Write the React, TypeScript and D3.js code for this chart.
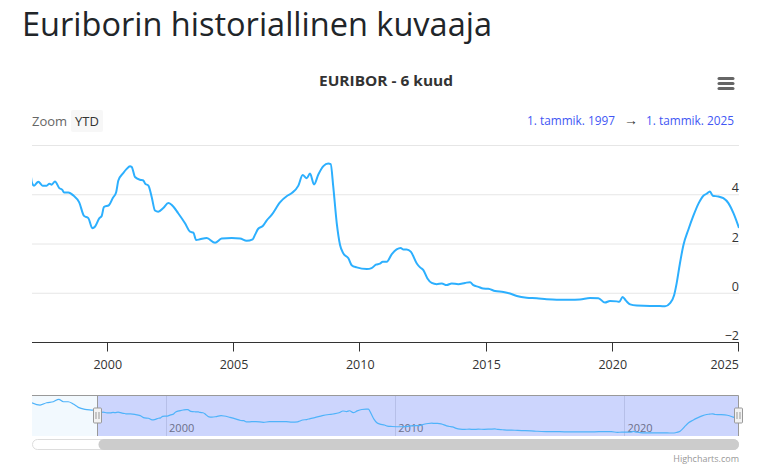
import React from "react";
import * as d3 from "d3";

// ---- data (decimal year, 6-month Euribor %) ----
const years: number[] = [
  1994.15, 1994.5, 1994.79, 1995.08, 1995.32, 1995.52, 1995.73, 1995.95, 1996.17, 1996.46, 1996.75, 1996.92,
  1997.0, 1997.08, 1997.25, 1997.42, 1997.58, 1997.69, 1997.78, 1997.91, 1998.08, 1998.2, 1998.27, 1998.44,
  1998.64, 1998.87, 1999.06, 1999.23, 1999.39, 1999.5, 1999.67, 1999.76, 1999.85, 2000.05, 2000.2, 2000.33,
  2000.42, 2000.62, 2000.75, 2000.88, 2000.95, 2001.08, 2001.28, 2001.41, 2001.48, 2001.61, 2001.74, 2001.87,
  2002.0, 2002.2, 2002.4, 2002.53, 2002.79, 2003.06, 2003.26, 2003.39, 2003.5, 2003.65, 2003.92, 2004.25,
  2004.51, 2004.91, 2005.24, 2005.5, 2005.74, 2005.83, 2005.96, 2006.14, 2006.29, 2006.49, 2006.82, 2007.11,
  2007.29, 2007.55, 2007.72, 2007.88, 2008.01, 2008.17, 2008.34, 2008.54, 2008.73, 2008.83, 2008.93, 2009.07,
  2009.2, 2009.33, 2009.53, 2009.66, 2009.86, 2010.26, 2010.45, 2010.62, 2010.78, 2010.89, 2011.05, 2011.25,
  2011.44, 2011.6, 2011.71, 2011.84, 2012.0, 2012.24, 2012.37, 2012.5, 2012.66, 2012.83, 2013.03, 2013.23,
  2013.42, 2013.62, 2013.88, 2014.15, 2014.35, 2014.48, 2014.68, 2014.87, 2015.07, 2015.34, 2015.67, 2015.93,
  2016.2, 2016.59, 2016.99, 2017.38, 2017.78, 2018.31, 2018.7, 2019.1, 2019.43, 2019.69, 2019.89, 2020.16,
  2020.26, 2020.39, 2020.53, 2020.69, 2020.95, 2021.48, 2021.87, 2022.07, 2022.27, 2022.43, 2022.53, 2022.66,
  2022.8, 2022.99, 2023.19, 2023.39, 2023.59, 2023.72, 2023.85, 2023.96, 2024.18, 2024.38, 2024.58, 2024.78,
  2025.0,
];
const rates: number[] = [
  6.8, 6.25, 6.8, 7.05, 7.64, 7.05, 7.05, 6.49, 5.69, 5.2, 5.03, 4.95,
  4.48, 4.37, 4.53, 4.37, 4.37, 4.45, 4.41, 4.54, 4.27, 4.2, 4.09, 4.09,
  3.97, 3.69, 3.14, 3.05, 2.64, 2.71, 3.05, 3.14, 3.5, 3.58, 3.87, 4.09,
  4.58, 4.89, 5.05, 5.16, 5.13, 4.72, 4.61, 4.58, 4.45, 4.37, 3.91, 3.36,
  3.31, 3.46, 3.66, 3.59, 3.25, 2.84, 2.5, 2.46, 2.16, 2.19, 2.24, 2.05,
  2.22, 2.24, 2.22, 2.13, 2.19, 2.37, 2.62, 2.73, 2.95, 3.18, 3.69, 3.96,
  4.07, 4.37, 4.8, 4.67, 4.86, 4.42, 4.82, 5.16, 5.27, 5.24, 4.34, 2.84,
  1.96, 1.62, 1.42, 1.14, 1.05, 0.98, 1.02, 1.16, 1.2, 1.28, 1.28, 1.59,
  1.78, 1.84, 1.78, 1.78, 1.69, 1.21, 1.05, 0.94, 0.6, 0.42, 0.37, 0.4,
  0.33, 0.4, 0.37, 0.42, 0.45, 0.33, 0.26, 0.19, 0.18, 0.09, 0.05, -0.01,
  -0.11, -0.18, -0.2, -0.24, -0.26, -0.26, -0.25, -0.19, -0.2, -0.38, -0.31, -0.33,
  -0.35, -0.15, -0.31, -0.45, -0.5, -0.52, -0.52, -0.53, -0.4, -0.08, 0.4, 1.21,
  1.96, 2.57, 3.14, 3.63, 3.96, 4.04, 4.13, 3.96, 3.93, 3.86, 3.66, 3.25,
  2.65,
];
const viewRange: number[] = [1997, 2025];
const yDomain: number[] = [-2, 6];
const yTickValues: number[] = [-2, 0, 2, 4, 6];
const xTickYears: number[] = [2000, 2005, 2010, 2015, 2020, 2025];
const navTickYears: number[] = [2000, 2010, 2020];

const pageTitle = "Euriborin historiallinen kuvaaja";
const chartTitle = "EURIBOR - 6 kuud";
const fromLabel = "1. tammik. 1997";
const toLabel = "1. tammik. 2025";

const FONT = "'Open Sans', 'Noto Sans', sans-serif";
const LINE = "#2caffe";

export default function App() {
  const W = 769, H = 466;
  const left = 32, right = 739;
  const top = 145.5, bottom = 342.5;
  const data = years.map((y, i) => ({ y, v: rates[i] }));

  const x = d3.scaleLinear().domain(viewRange).range([left, right]);
  const y = d3.scaleLinear().domain(yDomain).range([bottom, top]);

  const line = d3
    .line<{ y: number; v: number }>()
    .x((d) => x(d.y))
    .y((d) => y(d.v))
    .curve(d3.curveMonotoneX);

  // navigator
  const navTop = 395.5, navBottom = 436;
  const nx = d3.scaleLinear().domain(d3.extent(years) as [number, number]).range([left, right]);
  const ny = d3.scaleLinear().domain(d3.extent(rates) as [number, number]).range([433, 399.3]);
  const navLine = d3
    .line<{ y: number; v: number }>()
    .x((d) => nx(d.y))
    .y((d) => ny(d.v))
    .curve(d3.curveMonotoneX);
  const hx1 = Math.round(nx(viewRange[0])) + 0.5;
  const hx2 = Math.round(nx(viewRange[1])) - 0.5;

  const handle = (cx: number) => (
    <g key={cx}>
      <rect x={cx - 4} y={408} width={8} height={15} rx={1} fill="#f2f2f2" stroke="#999" strokeWidth={1} />
      <line x1={cx - 1.5} x2={cx - 1.5} y1={412} y2={419} stroke="#999" />
      <line x1={cx + 1.5} x2={cx + 1.5} y1={412} y2={419} stroke="#999" />
    </g>
  );

  return (
    <svg
      width={W}
      height={H}
      style={{ position: "absolute", left: 0, top: 0, background: "#fff" }}
      fontFamily={FONT}
    >
      <defs>
        <clipPath id="plotClip">
          <rect x={left} y={top - 10} width={right - left} height={bottom - top + 10} />
        </clipPath>
        <clipPath id="navClip">
          <rect x={left} y={navTop} width={right - left} height={navBottom - navTop} />
        </clipPath>
      </defs>

      {/* page title */}
      <text x={22} y={36} fontSize={33} fill="#212529" textLength={470} lengthAdjust="spacingAndGlyphs">
        {pageTitle}
      </text>

      {/* chart title */}
      <text x={386} y={86} fontSize={15} fontWeight="bold" fill="#333" textAnchor="middle" textLength={134} lengthAdjust="spacingAndGlyphs">
        {chartTitle}
      </text>

      {/* menu */}
      {[78.5, 83.5, 88.5].map((yy) => (
        <line key={yy} x1={719} x2={733} y1={yy} y2={yy} stroke="#666" strokeWidth={3} strokeLinecap="round" />
      ))}

      {/* range selector */}
      <text x={32} y={126} fontSize={13} fill="#666">Zoom</text>
      <rect x={71} y={110} width={32} height={22} rx={2} fill="#f7f7f7" />
      <text x={87} y={126} fontSize={13} fill="#333" textAnchor="middle">YTD</text>
      <text x={615} y={125} fontSize={12.5} fill="#4257f4" textAnchor="end" textLength={88} lengthAdjust="spacingAndGlyphs">{fromLabel}</text>
      <text x={631} y={125} fontSize={14} fill="#333" textAnchor="middle">→</text>
      <text x={734} y={125} fontSize={12.5} fill="#4257f4" textAnchor="end" textLength={88} lengthAdjust="spacingAndGlyphs">{toLabel}</text>

      {/* gridlines */}
      {yTickValues.filter((v) => v > yDomain[0]).map((v) => (
        <line key={v} x1={left} x2={right} y1={y(v)} y2={y(v)} stroke="#e6e6e6" strokeWidth={1} />
      ))}
      {/* y labels */}
      {yTickValues.filter((v) => v < yDomain[1]).map((v) => (
        <text key={v} x={739} y={y(v) - 2.5} fontSize={12.5} fill="#333" textAnchor="end">
          {v < 0 ? "\u2212" + Math.abs(v) : String(v)}
        </text>
      ))}

      {/* series */}
      <path d={line(data) || ""} fill="none" stroke={LINE} strokeWidth={2} strokeLinejoin="round" clipPath="url(#plotClip)" />

      {/* x axis */}
      <line x1={left} x2={right} y1={bottom} y2={bottom} stroke="#333" strokeWidth={1} />
      {xTickYears.map((t, i) => {
        const px = Math.round(x(t)) - 0.5;
        const last = i === xTickYears.length - 1;
        return (
          <g key={t}>
            <line x1={px} x2={px} y1={bottom} y2={bottom + 9} stroke="#333" strokeWidth={1} />
            <text x={last ? right : x(t)} y={369} fontSize={12.5} fill="#333" textAnchor={last ? "end" : "middle"}>{t}</text>
          </g>
        );
      })}

      {/* navigator */}
      <rect x={left} y={navTop} width={hx1 - left} height={navBottom - navTop} fill="#f2f9fe" />
      <rect x={hx1} y={navTop} width={hx2 - hx1} height={navBottom - navTop} fill="#ccd5fd" />
      {navTickYears.map((t) => (
        <g key={t}>
          <line x1={Math.round(nx(t)) + 0.5} x2={Math.round(nx(t)) + 0.5} y1={navTop} y2={navBottom} stroke="#b6bfe8" strokeWidth={1} />
          <text x={nx(t) + 3} y={432} fontSize={11} fill="#6b6f8a">{t}</text>
        </g>
      ))}
      <path d={navLine(data) || ""} fill="none" stroke="#4fb3fa" strokeWidth={1.2} clipPath="url(#navClip)" />
      <path
        d={`M${left},${navTop}H${right - 0.5}V${navBottom}M${hx1},${navTop}V${navBottom}`}
        fill="none"
        stroke="#999"
        strokeWidth={1}
      />
      {handle(hx1)}
      {handle(hx2)}

      {/* scrollbar */}
      <rect x={left + 0.5} y={439.5} width={right - left - 1} height={10} rx={5} fill="#fff" stroke="#ddd" strokeWidth={1} />
      <rect x={hx1 + 1} y={439} width={right - hx1 - 1} height={11} rx={5.5} fill="#cccccc" />

      {/* credits */}
      <text x={739} y={462} fontSize={9} fill="#999" textAnchor="end">Highcharts.com</text>
    </svg>
  );
}
